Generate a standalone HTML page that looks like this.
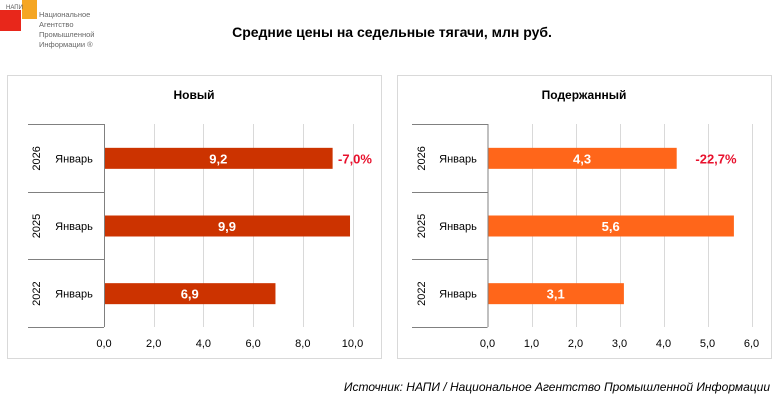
<!DOCTYPE html>
<html><head><meta charset="utf-8"><style>
html,body{margin:0;padding:0;background:#fff;width:782px;height:401px;overflow:hidden}
svg{display:block;font-family:"Liberation Sans","DejaVu Sans",sans-serif}
</style></head><body>
<svg id="chart" width="782" height="401" viewBox="0 0 782 401">
  <g>
    <rect x="0" y="10" width="21" height="21" fill="#e8271b"/>
    <rect x="22" y="0" width="15" height="19" fill="#f5a623"/>
    <text x="6" y="9" font-size="6" fill="#555">НАПИ</text>
    <text x="39" y="17" font-size="7.5" fill="#666">Национальное</text>
    <text x="39" y="27" font-size="7.5" fill="#666">Агентство</text>
    <text x="39" y="37" font-size="7.5" fill="#666">Промышленной</text>
    <text x="39" y="47" font-size="7.5" fill="#666">Информации ®</text>
  </g>
  <text x="392" y="37" text-anchor="middle" font-size="14" font-weight="bold" fill="#000">Средние цены на седельные тягачи, млн руб.</text>
  <g id="p1"></g>
  <g id="p2"></g>
  <text x="770" y="391" text-anchor="end" font-size="12" font-style="italic" fill="#000">Источник: НАПИ / Национальное Агентство Промышленной Информации</text>
</svg>
<script>
const years = ["2026","2025","2022"];
const months = ["Январь","Январь","Январь"];
const newValues = [9.2, 9.9, 6.9];
const usedValues = [4.3, 5.6, 3.1];
const newTicks = [0,2,4,6,8,10];
const usedTicks = [0,1,2,3,4,5,6];
const newChange = "-7,0%";
const usedChange = "-22,7%";

const NS = "http://www.w3.org/2000/svg";
function mk(parent, tag, attrs, txt){
  const e = document.createElementNS(NS, tag);
  for (const k in attrs) e.setAttribute(k, attrs[k]);
  if (txt !== undefined) e.textContent = txt;
  parent.appendChild(e); return e;
}
function fmt(v){ return v.toFixed(1).replace('.', ','); }

function panel(gid, cfg){
  const g = document.getElementById(gid);
  const box = mk(g,'rect',{x:cfg.bx0+0.5,y:75.5,width:cfg.bx1-cfg.bx0,height:283,fill:'#fff',stroke:'#d9d9d9'});
  
  
  const t = mk(g,'text',{x:(cfg.bx0+cfg.bx1)/2,y:99,'text-anchor':'middle','font-size':12,'font-weight':'bold',fill:'#000'},cfg.title);
  
  
  const top=124, bot=327, max=cfg.ticks[cfg.ticks.length-1];
  const sx = v => cfg.x0 + v*(cfg.x1-cfg.x0)/max;
  cfg.ticks.forEach(tv=>{
    const x = Math.round(sx(tv))+0.5;
    if (tv>0){
      const gl = mk(g,'line',{x1:x,y1:top,x2:x,y2:bot,stroke:'#d9d9d9'});
      
      
    }
    const tl = mk(g,'text',{x:sx(tv),y:347,'text-anchor':'middle','font-size':11,fill:'#000'},fmt(tv));
    
    
  });
  const band = (bot-top)/cfg.values.length;
  for (let i=0;i<=cfg.values.length;i++){
    const y = Math.round(top+i*band)+0.5;
    const sl = mk(g,'line',{x1:cfg.sepx,y1:y,x2:cfg.x0,y2:y,stroke:'#808080'});
    
    
  }
  const ax = mk(g,'line',{x1:cfg.x0+0.5,y1:top,x2:cfg.x0+0.5,y2:bot,stroke:'#808080'});
  
  
  cfg.values.forEach((v,i)=>{
    const cy = top + band*(i+0.5) + 0.5;
    const r = mk(g,'rect',{x:cfg.x0+1,y:cy-10.5,width:sx(v)-cfg.x0-1,height:21,fill:cfg.color});
    
    
    const vl = mk(g,'text',{x:(cfg.x0+sx(v))/2,y:cy+5,'text-anchor':'middle','font-size':13,'font-weight':'bold',fill:'#fff'},fmt(v));
    
    
    const ml = mk(g,'text',{x:cfg.mx,y:cy+4,'text-anchor':'middle','font-size':11,fill:'#000'},months[i]);
    
    
    const yl = mk(g,'text',{x:0,y:0,'text-anchor':'middle','font-size':11,fill:'#000',transform:`translate(${cfg.yx},${cy}) rotate(-90)`},years[i]);
    
    
  });
  const cy0 = top + band*0.5 + 0.5;
  const cl = mk(g,'text',{x:cfg.chx,y:cy0+5,'text-anchor':'middle','font-size':13,'font-weight':'bold',fill:'#e8112d'},cfg.change);
  
  
}
panel('p1',{name:'new',title:'Новый',bx0:7,bx1:381,x0:104,x1:352.5,sepx:28,mx:74,yx:40,values:newValues,ticks:newTicks,color:'#cc3300',change:newChange,chx:355});
panel('p2',{name:'used',title:'Подержанный',bx0:397,bx1:771,x0:487.5,x1:751.5,sepx:412,mx:458,yx:425,values:usedValues,ticks:usedTicks,color:'#ff661a',change:usedChange,chx:716});
</script>
</body></html>
